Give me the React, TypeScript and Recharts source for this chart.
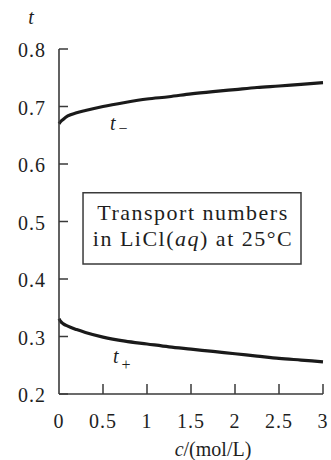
import React from 'react';
import { LineChart, Line, XAxis, YAxis, ReferenceArea, ReferenceDot, Label } from 'recharts';

// concentration c / (mol/L)
const concentrations = [0, 0.02, 0.05, 0.1, 0.2, 0.3, 0.5, 0.75, 1, 1.25, 1.5, 1.75, 2, 2.25, 2.5, 2.75, 3];
// anion transport number t−
const tMinus = [0.67, 0.674, 0.678, 0.6835, 0.689, 0.693, 0.7, 0.707, 0.713, 0.717, 0.722, 0.726, 0.7295, 0.733, 0.7357, 0.7386, 0.7414];
// cation transport number t+
const tPlus = [0.331, 0.326, 0.322, 0.318, 0.312, 0.307, 0.299, 0.292, 0.287, 0.282, 0.278, 0.274, 0.27, 0.266, 0.262, 0.259, 0.256];

const xTicks = [0, 0.5, 1, 1.5, 2, 2.5, 3];
const yTicks = [0.2, 0.3, 0.4, 0.5, 0.6, 0.7, 0.8];

// annotation positions (data coordinates)
const curveLabels = [
  { c: 0.58, t: 0.659, sub: '\u2212', subDy: 4 },
  { c: 0.614, t: 0.254, sub: '+', subDy: 7 },
];
const infoBox = { c1: 0.273, c2: 2.75, t1: 0.426, t2: 0.55 };

const data = concentrations.map((c, i) => ({ c, tMinus: tMinus[i], tPlus: tPlus[i] }));

const FONT = '"Liberation Serif", "Times New Roman", serif';
const TEXT = '#1e1e1e';
const AXIS = '#3a3a3a';
const CURVE = '#1a1a1a';

const XTick = (props: any) => {
  const { x, y, payload } = props;
  const v = payload.value as number;
  return (
    <g>
      {v !== 0 && <line x1={x} x2={x} y1={y} y2={y - 10} stroke={AXIS} strokeWidth={1.5} />}
      <text x={x} y={y + 34} textAnchor="middle" fontFamily={FONT} fontSize={20} letterSpacing={1} fill={TEXT}>
        {String(v)}
      </text>
    </g>
  );
};

const YTick = (props: any) => {
  const { x, y, payload } = props;
  const v = payload.value as number;
  return (
    <g>
      <line x1={x} x2={x + 9} y1={y} y2={y} stroke={AXIS} strokeWidth={1.5} />
      <text x={x - 13} y={y + 8} textAnchor="end" fontFamily={FONT} fontSize={20} letterSpacing={1} fill={TEXT}>
        {v.toFixed(1)}
      </text>
    </g>
  );
};

const XTitle = (p: any) => {
  const vb = p.viewBox;
  return (
    <text x={vb.x + vb.width / 2 + 22} y={vb.y + 62} textAnchor="middle" fontFamily={FONT} fontSize={20} fill={TEXT}>
      <tspan fontStyle="italic">c</tspan>/(mol/L)
    </text>
  );
};

const YTitle = () => (
  <text x={31} y={24} textAnchor="middle" fontFamily={FONT} fontSize={20} fontStyle="italic" fill={TEXT}>
    t
  </text>
);

const makeCurveLabel = (sub: string, subDy: number) => (p: any) => {
  const vb = p.viewBox;
  return (
    <text x={vb.x} y={vb.y} fontFamily={FONT} fontSize={20} fill={TEXT}>
      <tspan fontStyle="italic">t</tspan>
      <tspan dx={3} dy={subDy} fontSize={16}>{sub}</tspan>
    </text>
  );
};

const BoxLabel = (p: any) => {
  const vb = p.viewBox;
  const cx = vb.x + vb.width / 2 + 1;
  return (
    <text fontFamily={FONT} fontSize={22} letterSpacing={1.5} fill={TEXT} textAnchor="middle">
      <tspan x={cx} y={vb.y + 27}>Transport numbers</tspan>
      <tspan x={cx} y={vb.y + 53}>
        in LiCl(<tspan fontStyle="italic">aq</tspan>) at 25°C
      </tspan>
    </text>
  );
};

export default function App() {
  return (
    <div style={{ position: 'absolute', left: 0, top: 0, width: 331, height: 460, background: '#fff' }}>
      <LineChart width={331} height={460} data={data} margin={{ top: 49, right: 8, bottom: 0, left: 0 }}>
        <XAxis
          dataKey="c"
          type="number"
          domain={[0, 3]}
          ticks={xTicks}
          interval={0}
          height={66}
          axisLine={{ stroke: AXIS, strokeWidth: 1.6 }}
          tickLine={false}
          tickSize={0}
          tickMargin={0}
          tick={<XTick />}
        >
          <Label content={<XTitle />} />
        </XAxis>
        <YAxis
          type="number"
          domain={[0.2, 0.8]}
          ticks={yTicks}
          interval={0}
          width={59}
          axisLine={{ stroke: AXIS, strokeWidth: 1.6 }}
          tickLine={false}
          tickSize={0}
          tickMargin={0}
          tick={<YTick />}
        >
          <Label content={<YTitle />} />
        </YAxis>
        <ReferenceArea
          x1={infoBox.c1}
          x2={infoBox.c2}
          y1={infoBox.t1}
          y2={infoBox.t2}
          fill="#ffffff"
          fillOpacity={1}
          stroke={AXIS}
          strokeWidth={1.5}
          label={<BoxLabel />}
        />
        <Line type="monotone" dataKey="tMinus" stroke={CURVE} strokeWidth={3.2} dot={false} isAnimationActive={false} />
        <Line type="monotone" dataKey="tPlus" stroke={CURVE} strokeWidth={3.2} dot={false} isAnimationActive={false} />
        {curveLabels.map((l) => (
          <ReferenceDot
            key={l.sub}
            x={l.c}
            y={l.t}
            r={0}
            fill="none"
            stroke="none"
            label={makeCurveLabel(l.sub, l.subDy)}
          />
        ))}
      </LineChart>
    </div>
  );
}
